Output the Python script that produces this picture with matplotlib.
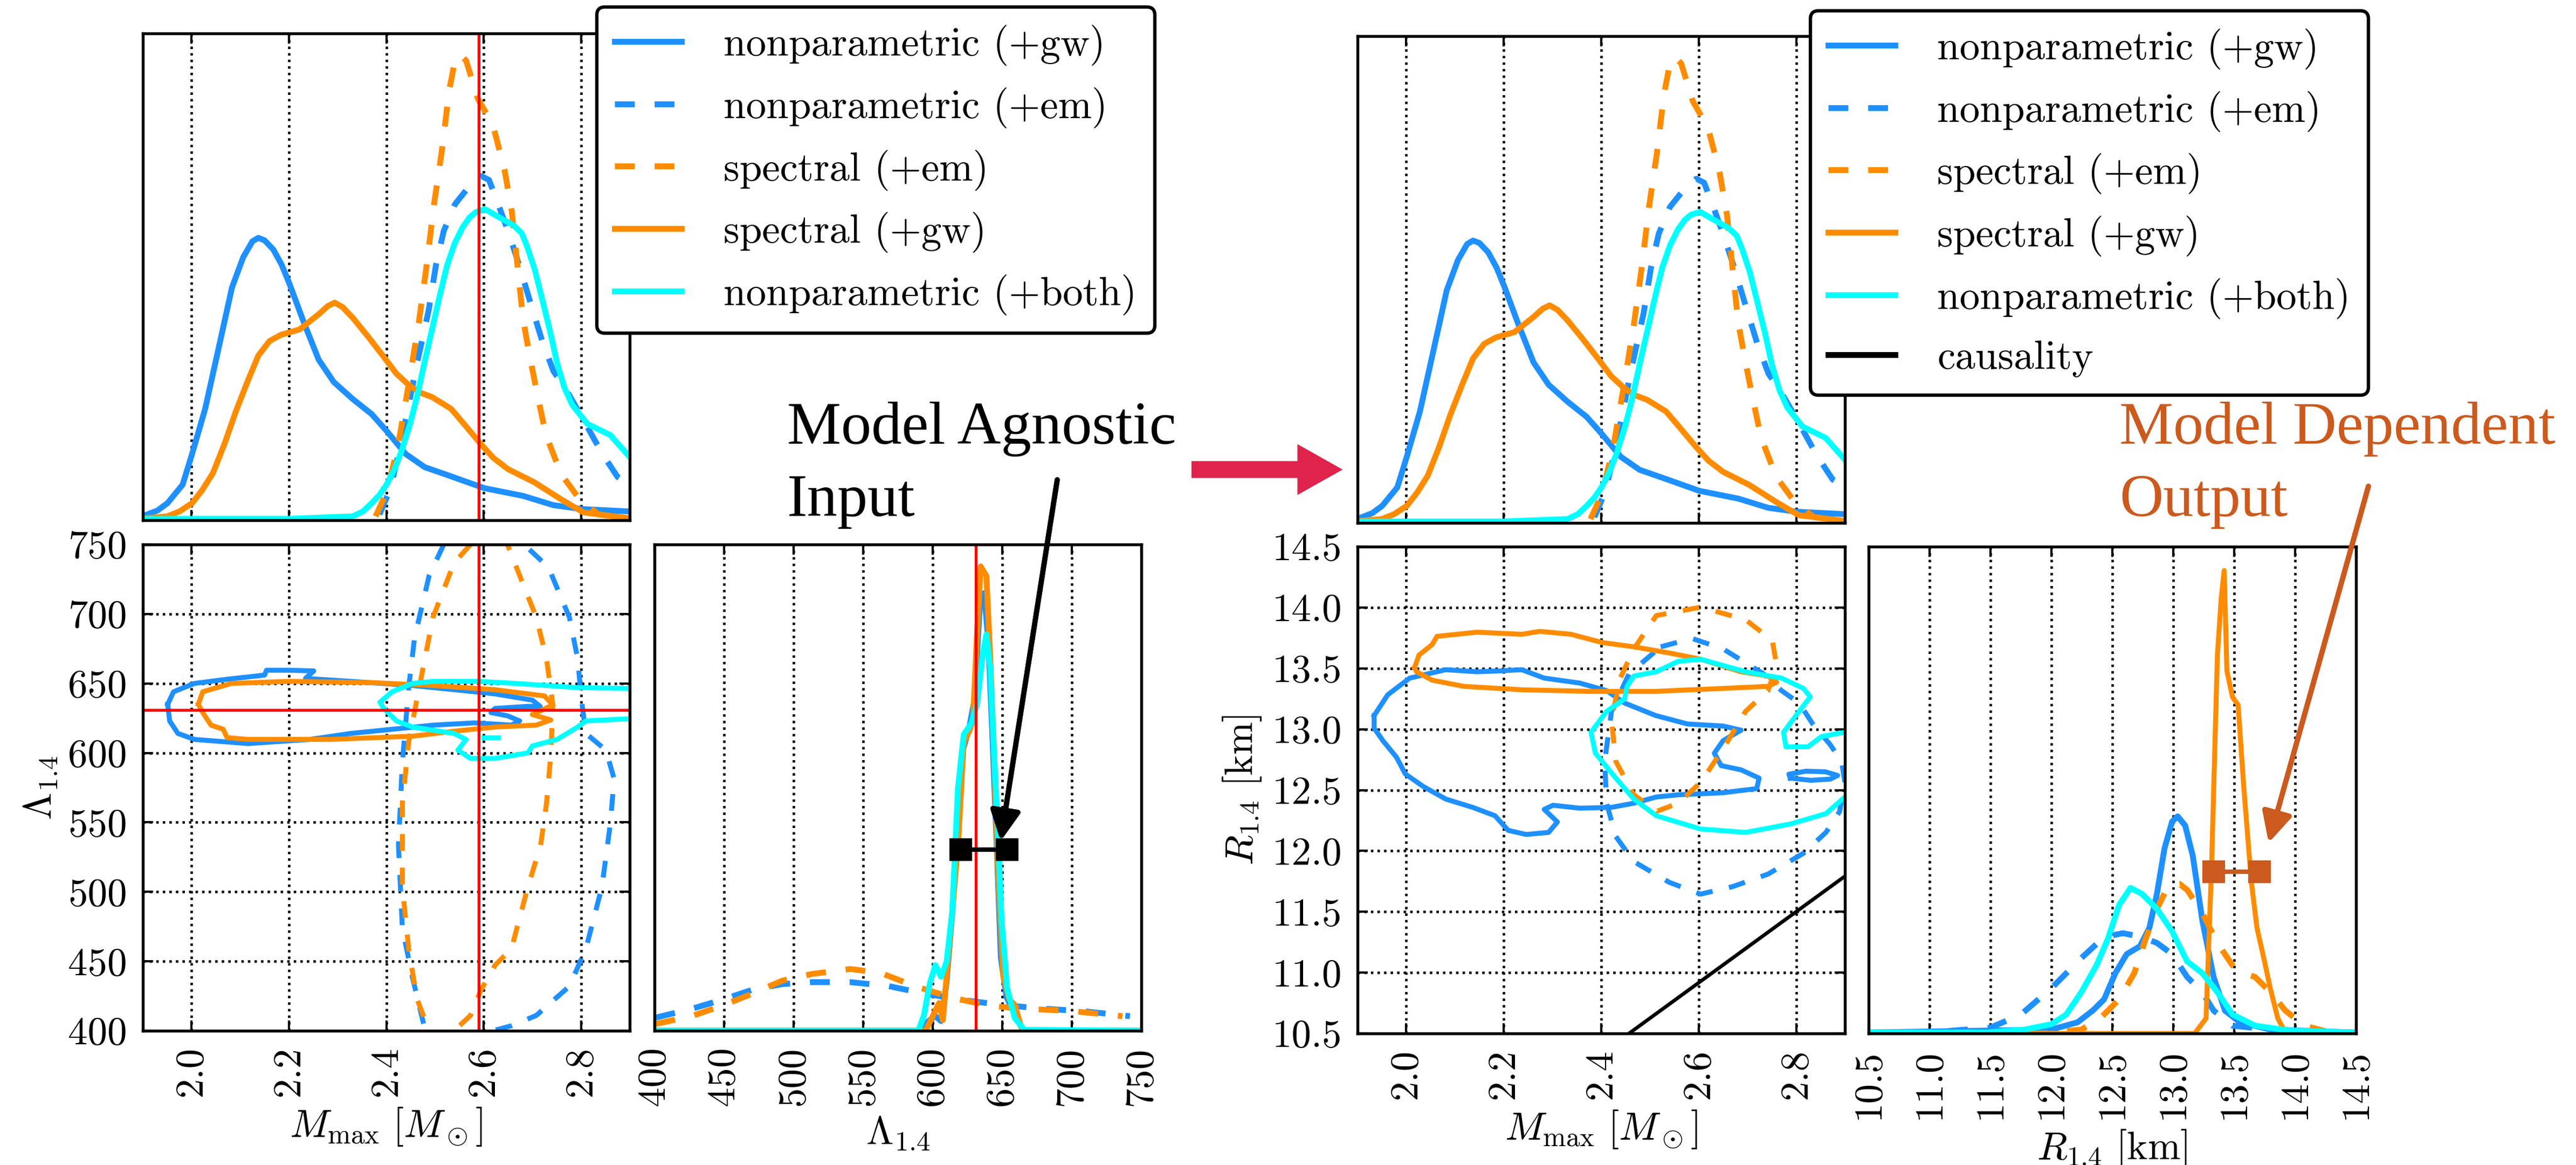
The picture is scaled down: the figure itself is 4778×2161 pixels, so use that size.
import numpy as np
import matplotlib.pyplot as plt
from matplotlib.lines import Line2D
from matplotlib.ticker import FixedLocator, FormatStrFormatter

plt.rcParams['font.family'] = 'serif'
plt.rcParams['font.serif'] = ['cmr10']
plt.rcParams['mathtext.fontset'] = 'cm'
plt.rcParams['axes.formatter.use_mathtext'] = True
plt.rcParams['axes.unicode_minus'] = False

W, H = 4778, 2161
FS = 17.5
BLUE, ORANGE, CYAN = 'dodgerblue', 'darkorange', 'cyan'
DEP = '#cc5a1e'
PINK = '#e0234a'
DASH = (0, (3.4, 3.4))

labels = ['nonparametric (+gw)', 'nonparametric (+em)', 'spectral (+em)',
          'spectral (+gw)', 'nonparametric (+both)']

# ---- M_max marginals (arbitrary density units) ----
mmax_npgw_x = [1.904, 1.93, 1.9505, 1.9816, 2.001, 2.028, 2.059, 2.083, 2.106, 2.125, 2.137, 2.15, 2.168,
               2.185, 2.201, 2.23, 2.261, 2.292, 2.331, 2.37, 2.401, 2.44, 2.479, 2.525, 2.601, 2.681,
               2.743, 2.801, 2.9]
mmax_npgw_y = [0.01, 0.02, 0.035, 0.073, 0.136, 0.229, 0.369, 0.478, 0.54, 0.573, 0.58, 0.575, 0.556,
               0.525, 0.486, 0.408, 0.33, 0.284, 0.249, 0.218, 0.183, 0.136, 0.109, 0.093, 0.066, 0.05,
               0.031, 0.023, 0.018]
mmax_npem_x = [2.386, 2.409, 2.432, 2.463, 2.487, 2.502, 2.518, 2.541, 2.572, 2.595, 2.611, 2.627, 2.65,
               2.673, 2.696, 2.72, 2.743, 2.774, 2.805, 2.844, 2.875, 2.9]
mmax_npem_y = [0.012, 0.066, 0.167, 0.322, 0.431, 0.524, 0.594, 0.649, 0.688, 0.707, 0.699, 0.657, 0.594,
               0.524, 0.447, 0.369, 0.307, 0.26, 0.206, 0.136, 0.089, 0.074]
mmax_spem_x = [2.378, 2.401, 2.424, 2.448, 2.467, 2.483, 2.498, 2.514, 2.529, 2.541, 2.552, 2.564, 2.588,
               2.619, 2.643, 2.658, 2.681, 2.696, 2.712, 2.728, 2.759, 2.797, 2.836, 2.9]
mmax_spem_y = [0.008, 0.058, 0.152, 0.291, 0.408, 0.524, 0.649, 0.758, 0.882, 0.944, 0.956, 0.944, 0.866,
               0.812, 0.719, 0.633, 0.412, 0.33, 0.25, 0.175, 0.095, 0.043, 0.012, 0.003]
mmax_spgw_x = [1.904, 1.95, 1.975, 2.001, 2.022, 2.044, 2.067, 2.09, 2.115, 2.137, 2.16, 2.184, 2.222,
               2.261, 2.28, 2.294, 2.31, 2.331, 2.362, 2.393, 2.42, 2.448, 2.47, 2.494, 2.533, 2.562,
               2.592, 2.62, 2.65, 2.704, 2.759, 2.805, 2.9]
mmax_spgw_y = [0.004, 0.008, 0.018, 0.035, 0.062, 0.097, 0.155, 0.221, 0.285, 0.338, 0.368, 0.381,
               0.392, 0.423, 0.44, 0.447, 0.438, 0.416, 0.378, 0.338, 0.302, 0.276, 0.262, 0.253, 0.229,
               0.195, 0.159, 0.128, 0.105, 0.078, 0.043, 0.016, 0.004]
mmax_both_x = [1.9, 2.2, 2.331, 2.352, 2.37, 2.386, 2.401, 2.417, 2.432, 2.448, 2.463, 2.478, 2.494,
               2.51, 2.525, 2.541, 2.557, 2.571, 2.584, 2.603, 2.627, 2.661, 2.678, 2.689, 2.705, 2.72,
               2.736, 2.751, 2.766, 2.782, 2.813, 2.86, 2.9]
mmax_both_y = [0.003, 0.003, 0.008, 0.018, 0.035, 0.052, 0.074, 0.105, 0.144, 0.195, 0.253, 0.322,
               0.392, 0.462, 0.524, 0.57, 0.602, 0.622, 0.633, 0.639, 0.625, 0.606, 0.59, 0.563, 0.515,
               0.455, 0.39, 0.322, 0.272, 0.237, 0.198, 0.175, 0.13]

# ---- Lambda_1.4 marginals ----
lam_npgw_x = [400, 590, 597, 602, 606, 610, 614, 618, 622, 626, 630, 634, 637, 640, 643, 646, 649, 653,
              658, 665, 750]
lam_npgw_y = [0, 0, 0.02, 0.03, 0.02, 0.1, 0.24, 0.42, 0.58, 0.62, 0.68, 0.88, 0.9, 0.8, 0.6, 0.38, 0.15,
              0.07, 0.04, 0, 0]
lam_npem_x = [400.8, 426.6, 450, 470, 491.8, 513.6, 540.8, 568, 595, 622.3, 649.5, 682, 709, 741.8]
lam_npem_y = [0.027, 0.045, 0.065, 0.084, 0.096, 0.1, 0.1, 0.092, 0.076, 0.063, 0.053, 0.045, 0.04, 0.03]
lam_spem_x = [400.8, 426.6, 450, 470, 491.8, 513.6, 540.8, 562.5, 587, 614, 641.3, 668.5, 698.4, 736.4]
lam_spem_y = [0.014, 0.03, 0.053, 0.076, 0.103, 0.117, 0.127, 0.119, 0.092, 0.068, 0.051, 0.045, 0.041, 0.03]
lam_spgw_x = [400, 595, 600.5, 604.6, 607.3, 610, 614, 618.2, 622.3, 626.4, 629, 631.8, 634.5, 638.6,
              641.3, 644, 646.7, 650.8, 655, 659, 664.4, 750]
lam_spgw_y = [0, 0, 0.033, 0.057, 0.022, 0.111, 0.243, 0.383, 0.593, 0.617, 0.64, 0.811, 0.955, 0.935,
              0.772, 0.578, 0.344, 0.111, 0.065, 0.053, 0, 0]
lam_both_x = [400, 589.7, 593.8, 597.8, 601.9, 606, 610, 614, 618.2, 622.3, 627.7, 631.8, 635.9, 638.6,
              641.3, 644, 646.7, 649.5, 653.5, 659, 665.8, 750]
lam_both_y = [0, 0, 0.033, 0.096, 0.135, 0.111, 0.142, 0.243, 0.5, 0.609, 0.632, 0.671, 0.772, 0.815,
              0.749, 0.578, 0.422, 0.228, 0.088, 0.026, 0.002, 0]

# ---- R_1.4 marginals ----
r_npgw_x = [10.5, 12.0, 12.215, 12.339, 12.432, 12.525, 12.618, 12.726, 12.804, 12.866, 12.928, 12.99,
            13.036, 13.098, 13.16, 13.238, 13.331, 13.424, 13.548, 13.796, 14.5]
r_npgw_y = [0.002, 0.008, 0.023, 0.047, 0.07, 0.124, 0.163, 0.179, 0.217, 0.287, 0.38, 0.435, 0.446,
            0.427, 0.365, 0.233, 0.116, 0.047, 0.023, 0.008, 0.002]
r_npem_x = [10.5, 11.0, 11.5, 11.75, 12.0, 12.246, 12.432, 12.587, 12.742, 12.866, 12.99, 13.114,
            13.238, 13.331, 13.486, 13.796, 14.26]
r_npem_y = [0.002, 0.002, 0.012, 0.039, 0.093, 0.155, 0.198, 0.206, 0.198, 0.186, 0.163, 0.116, 0.085,
            0.047, 0.016, 0.008, 0.002]
r_spem_x = [10.5, 11.94, 12.246, 12.4, 12.556, 12.68, 12.773, 12.866, 12.959, 13.052, 13.114, 13.238,
            13.362, 13.486, 13.579, 13.672, 13.796, 13.92, 14.075, 14.26, 14.5]
r_spem_y = [0, 0, 0.008, 0.031, 0.07, 0.124, 0.194, 0.256, 0.303, 0.307, 0.295, 0.248, 0.186, 0.14,
            0.124, 0.116, 0.085, 0.047, 0.016, 0.004, 0]
r_spgw_x = [10.5, 13.176, 13.269, 13.315, 13.362, 13.393, 13.418, 13.44, 13.486, 13.532, 13.579, 13.641,
            13.687, 13.749, 13.796, 13.858, 13.92, 14.5]
r_spgw_y = [0, 0, 0.031, 0.349, 0.776, 0.893, 0.951, 0.745, 0.691, 0.675, 0.505, 0.311, 0.217, 0.148,
            0.093, 0.031, 0.002, 0]
r_both_x = [10.5, 11.47, 11.78, 12.0, 12.122, 12.246, 12.37, 12.463, 12.556, 12.649, 12.742, 12.866,
            12.99, 13.114, 13.238, 13.362, 13.486, 13.672, 13.951, 14.5]
r_both_y = [0.002, 0.002, 0.008, 0.019, 0.039, 0.085, 0.14, 0.194, 0.264, 0.299, 0.287, 0.256, 0.21,
            0.148, 0.124, 0.085, 0.039, 0.016, 0.006, 0.002]

# ---- 90% contours, M_max vs Lambda_1.4 ----
cl_npgw_m = [1.951, 1.963, 2.006, 2.073, 2.15, 2.154, 2.2, 2.251, 2.234, 2.327, 2.454, 2.539, 2.623, 2.7,
             2.716, 2.691, 2.623, 2.615, 2.649, 2.674, 2.657, 2.581, 2.497, 2.412, 2.327, 2.243, 2.116,
             2.006, 1.972, 1.955, 1.951]
cl_npgw_l = [635, 644, 650, 653, 656, 659.5, 659.5, 659, 653.6, 651.5, 648.5, 645.5, 642.5, 638, 633.5,
             633.5, 632, 629, 626.7, 623, 620, 621.6, 620, 617, 614, 609.7, 606.7, 609.7, 614, 623, 635]
cl_spgw_m = [2.014, 2.023, 2.082, 2.2, 2.37, 2.496, 2.623, 2.725, 2.742, 2.7, 2.738, 2.708, 2.623, 2.539,
             2.454, 2.285, 2.116, 2.073, 2.065, 2.04, 2.023, 2.014]
cl_spgw_l = [635, 644, 650, 651.5, 650.6, 648.5, 645.5, 641, 634.5, 627.6, 623.7, 620, 618.6, 615.6, 612,
             609.7, 609.7, 611, 617, 620, 629, 635]
cl_both_m = [2.9, 2.793, 2.666, 2.59, 2.496, 2.454, 2.412, 2.387, 2.395, 2.421, 2.454, 2.539, 2.564,
             2.547, 2.573, 2.623, 2.691, 2.7, 2.751, 2.793, 2.81, 2.9]
cl_both_l = [646.4, 647, 650, 651.5, 651.5, 650, 644, 636.5, 632, 623, 618.6, 614, 609.7, 602, 596, 596,
             600, 605, 609.7, 618.6, 623, 624.6]
cl_npem_m = [2.518, 2.488, 2.458, 2.446, 2.433, 2.425, 2.433, 2.454, 2.48, 2.55, 2.619, 2.657, 2.708,
             2.776, 2.81, 2.843, 2.86, 2.868, 2.851, 2.81, 2.801, 2.793, 2.776, 2.733, 2.683, 2.6, 2.518]
cl_npem_l = [750, 727.6, 682.8, 647, 593, 533.5, 473.8, 438, 400, 370, 400, 403.6, 411, 432, 459, 503.7,
             548.5, 581.3, 602, 614, 638, 668, 697.7, 733.6, 750, 780, 750]
cl_spem_m = [2.573, 2.539, 2.496, 2.471, 2.446, 2.433, 2.433, 2.446, 2.463, 2.488, 2.51, 2.539, 2.573,
             2.594, 2.623, 2.657, 2.691, 2.717, 2.729, 2.738, 2.742, 2.729, 2.708, 2.674, 2.649, 2.61,
             2.573]
cl_spem_l = [750, 736.6, 697.7, 653, 608, 563.4, 503.7, 459, 423, 400, 380, 400, 411, 429, 447, 459,
             503.7, 533.5, 563.4, 599, 635, 668, 697.7, 727.6, 750, 780, 750]

# ---- 90% contours, M_max vs R_1.4 ----
cr_npgw_m = [1.934, 1.962, 2.007, 2.081, 2.145, 2.191, 2.237, 2.283, 2.356, 2.411, 2.448, 2.512, 2.577,
             2.65, 2.687, 2.65, 2.632, 2.646, 2.687, 2.724, 2.719, 2.65, 2.558, 2.513, 2.467, 2.421,
             2.356, 2.301, 2.283, 2.31, 2.292, 2.246, 2.209, 2.182, 2.136, 2.081, 2.035, 1.998, 1.98,
             1.952, 1.934, 1.934]
cr_npgw_r = [13.112, 13.283, 13.42, 13.489, 13.472, 13.479, 13.489, 13.42, 13.379, 13.317, 13.215,
             13.112, 13.043, 13.026, 12.992, 12.906, 12.803, 12.701, 12.666, 12.598, 12.512, 12.478,
             12.461, 12.443, 12.392, 12.358, 12.351, 12.375, 12.341, 12.238, 12.152, 12.135, 12.169,
             12.289, 12.358, 12.426, 12.529, 12.632, 12.769, 12.906, 13.009, 13.112]
cr_npgw_blob_m = [2.788, 2.83, 2.87, 2.885, 2.86, 2.82, 2.785, 2.788]
cr_npgw_blob_r = [12.598, 12.58, 12.59, 12.62, 12.65, 12.655, 12.63, 12.598]
cr_spgw_m = [2.017, 2.026, 2.053, 2.063, 2.145, 2.237, 2.274, 2.338, 2.402, 2.467, 2.54, 2.604, 2.687,
             2.742, 2.76, 2.742, 2.65, 2.512, 2.375, 2.237, 2.118, 2.053, 2.021, 2.017]
cr_spgw_r = [13.506, 13.609, 13.695, 13.763, 13.797, 13.78, 13.804, 13.78, 13.712, 13.677, 13.626,
             13.575, 13.472, 13.437, 13.386, 13.352, 13.335, 13.311, 13.311, 13.324, 13.352, 13.403,
             13.472, 13.506]
cr_both_m = [2.9, 2.852, 2.824, 2.779, 2.774, 2.806, 2.829, 2.815, 2.77, 2.696, 2.604, 2.558, 2.513,
             2.467, 2.453, 2.448, 2.411, 2.379, 2.388, 2.43, 2.467, 2.513, 2.604, 2.696, 2.788, 2.861, 2.9]
cr_both_r = [12.975, 12.94, 12.855, 12.855, 12.975, 13.146, 13.266, 13.335, 13.42, 13.472, 13.575,
             13.558, 13.472, 13.437, 13.352, 13.249, 13.146, 12.975, 12.803, 12.598, 12.426, 12.289,
             12.18, 12.152, 12.221, 12.306, 12.443]
cr_npem_m = [2.522, 2.586, 2.65, 2.733, 2.77, 2.806, 2.834, 2.87, 2.893, 2.9, 2.889, 2.861, 2.815, 2.742,
             2.669, 2.604, 2.54, 2.467, 2.43, 2.411, 2.407, 2.421, 2.457, 2.522]
cr_npem_r = [13.677, 13.746, 13.66, 13.455, 13.317, 13.215, 13.043, 12.872, 12.735, 12.563, 12.323,
             12.152, 11.981, 11.809, 11.706, 11.645, 11.741, 11.912, 12.118, 12.392, 12.735, 13.146,
             13.455, 13.677]
cr_spem_m = [2.467, 2.513, 2.604, 2.696, 2.751, 2.76, 2.742, 2.696, 2.65, 2.604, 2.558, 2.513, 2.467,
             2.43, 2.421, 2.439, 2.467]
cr_spem_r = [13.66, 13.934, 14.003, 13.9, 13.729, 13.523, 13.317, 13.146, 12.838, 12.563, 12.392,
             12.324, 12.461, 12.735, 13.078, 13.42, 13.66]
causal_m = [2.457, 2.9]
causal_r = [10.5, 11.792]

# injected values and 90% credible intervals
m_inj, lam_inj = 2.59, 631
lam_ci, lam_ci_y = [620.2, 653.5], 0.372
r_ci, r_ci_y = [13.33, 13.71], 0.332

m_ticks = [2.0, 2.2, 2.4, 2.6, 2.8]
lam_ticks = [400, 450, 500, 550, 600, 650, 700, 750]
r_ticks = [10.5, 11.0, 11.5, 12.0, 12.5, 13.0, 13.5, 14.0, 14.5]


def rect(x0, y0, x1, y1):
    return [x0 / W, 1 - y1 / H, (x1 - x0) / W, (y1 - y0) / H]


def style(ax, xgrid_only=False, yticks=True):
    for s in ax.spines.values():
        s.set_linewidth(1.3)
    ax.tick_params(direction='in', length=4.5, width=1.0, top=True, right=yticks,
                   left=yticks, labelsize=FS, pad=7)
    ax.grid(True, axis='x' if xgrid_only else 'both', linestyle=':', color='k', lw=1.1)


fig = plt.figure(figsize=(W / 300, H / 300), dpi=300)

ax_m1 = fig.add_axes(rect(265, 62, 1168, 965))
ax_ml = fig.add_axes(rect(265, 1010, 1168, 1912))
ax_l1 = fig.add_axes(rect(1214, 1010, 2117, 1912))
ax_m2 = fig.add_axes(rect(2518, 67, 3422, 970))
ax_mr = fig.add_axes(rect(2518, 1014, 3422, 1917))
ax_r1 = fig.add_axes(rect(3466, 1014, 4370, 1917))

LW, CLW = 2.6, 2.2

# top marginals
for ax in (ax_m1, ax_m2):
    ax.plot(mmax_npgw_x, mmax_npgw_y, color=BLUE, lw=LW)
    ax.plot(mmax_npem_x, mmax_npem_y, color=BLUE, lw=LW, ls=DASH)
    ax.plot(mmax_spem_x, mmax_spem_y, color=ORANGE, lw=LW, ls=DASH)
    ax.plot(mmax_spgw_x, mmax_spgw_y, color=ORANGE, lw=LW)
    ax.plot(mmax_both_x, mmax_both_y, color=CYAN, lw=LW)
    ax.set_xlim(1.9, 2.9)
    ax.set_ylim(0, 1.0)
    ax.xaxis.set_major_locator(FixedLocator(m_ticks))
    ax.set_yticks([])
    ax.set_xticklabels([])
    style(ax, xgrid_only=True, yticks=False)
ax_m1.axvline(m_inj, color='red', lw=1.3)

# Lambda marginal
ax_l1.plot(lam_npgw_x, lam_npgw_y, color=BLUE, lw=LW)
ax_l1.plot(lam_npem_x, lam_npem_y, color=BLUE, lw=LW, ls=DASH)
ax_l1.plot(lam_spem_x, lam_spem_y, color=ORANGE, lw=LW, ls=DASH)
ax_l1.plot(lam_spgw_x, lam_spgw_y, color=ORANGE, lw=LW)
ax_l1.plot(lam_both_x, lam_both_y, color=CYAN, lw=LW)
ax_l1.axvline(lam_inj, color='red', lw=1.3)
ax_l1.plot(lam_ci, [lam_ci_y] * 2, color='k', lw=2.0, marker='s', ms=9, zorder=5)

# R marginal
ax_r1.plot(r_npgw_x, r_npgw_y, color=BLUE, lw=LW)
ax_r1.plot(r_npem_x, r_npem_y, color=BLUE, lw=LW, ls=DASH)
ax_r1.plot(r_spem_x, r_spem_y, color=ORANGE, lw=LW, ls=DASH)
ax_r1.plot(r_spgw_x, r_spgw_y, color=ORANGE, lw=2.2)
ax_r1.plot(r_both_x, r_both_y, color=CYAN, lw=LW)
ax_r1.plot(r_ci, [r_ci_y] * 2, color=DEP, lw=2.0, marker='s', ms=9, zorder=5)

for ax, ticks, lim, fmt, lab in ((ax_l1, lam_ticks, (400, 750), '%d', r'$\Lambda_{1.4}$'),
                                 (ax_r1, r_ticks, (10.5, 14.5), '%.1f', r'$R_{1.4}\ [{\rm km}]$')):
    ax.set_xlim(*lim)
    ax.set_ylim(0, 1.0)
    ax.xaxis.set_major_locator(FixedLocator(ticks))
    ax.xaxis.set_major_formatter(FormatStrFormatter(fmt))
    ax.set_yticks([])
    style(ax, xgrid_only=True, yticks=False)
    ax.tick_params(axis='x', labelrotation=90)
    ax.set_xlabel(lab, fontsize=FS, labelpad=4)

# 2D: M_max vs Lambda
ax_ml.plot(cl_npgw_m, cl_npgw_l, color=BLUE, lw=CLW)
ax_ml.plot(cl_npem_m, cl_npem_l, color=BLUE, lw=CLW, ls=DASH)
ax_ml.plot(cl_spem_m, cl_spem_l, color=ORANGE, lw=CLW, ls=DASH)
ax_ml.plot(cl_spgw_m, cl_spgw_l, color=ORANGE, lw=CLW)
ax_ml.plot(cl_both_m, cl_both_l, color=CYAN, lw=CLW)
ax_ml.plot([2.6, 2.63], [611, 611], color=CYAN, lw=CLW)
ax_ml.axvline(m_inj, color='red', lw=1.3)
ax_ml.axhline(lam_inj, color='red', lw=1.3)
ax_ml.set_ylim(400, 750)
ax_ml.yaxis.set_major_locator(FixedLocator(lam_ticks))
ax_ml.yaxis.set_major_formatter(FormatStrFormatter('%d'))
ax_ml.set_ylabel(r'$\Lambda_{1.4}$', fontsize=FS)

# 2D: M_max vs R
ax_mr.plot(cr_npgw_m, cr_npgw_r, color=BLUE, lw=CLW)
ax_mr.plot(cr_npgw_blob_m, cr_npgw_blob_r, color=BLUE, lw=CLW)
ax_mr.plot(cr_npem_m, cr_npem_r, color=BLUE, lw=CLW, ls=DASH)
ax_mr.plot(cr_spem_m, cr_spem_r, color=ORANGE, lw=CLW, ls=DASH)
ax_mr.plot(cr_spgw_m, cr_spgw_r, color=ORANGE, lw=CLW)
ax_mr.plot(cr_both_m, cr_both_r, color=CYAN, lw=CLW)
ax_mr.plot(causal_m, causal_r, color='k', lw=1.6)
ax_mr.set_ylim(10.5, 14.5)
ax_mr.yaxis.set_major_locator(FixedLocator(r_ticks))
ax_mr.yaxis.set_major_formatter(FormatStrFormatter('%.1f'))
ax_mr.set_ylabel(r'$R_{1.4}\ [{\rm km}]$', fontsize=FS)

for ax in (ax_ml, ax_mr):
    ax.set_xlim(1.9, 2.9)
    ax.xaxis.set_major_locator(FixedLocator(m_ticks))
    ax.xaxis.set_major_formatter(FormatStrFormatter('%.1f'))
    style(ax)
    ax.tick_params(axis='x', labelrotation=90)
    ax.set_xlabel(r'$M_{\rm max}\ [M_\odot]$', fontsize=FS, labelpad=4)

# legends
handles = [Line2D([], [], color=BLUE, lw=LW), Line2D([], [], color=BLUE, lw=LW, ls=DASH),
           Line2D([], [], color=ORANGE, lw=LW, ls=DASH), Line2D([], [], color=ORANGE, lw=LW),
           Line2D([], [], color=CYAN, lw=LW)]
leg_kw = dict(loc='upper left', bbox_transform=fig.transFigure, borderaxespad=0, fancybox=True,
              framealpha=1, edgecolor='k', fontsize=18, handlelength=1.65, handletextpad=1.05,
              labelspacing=0.53, borderpad=0.44)
leg1 = fig.legend(handles, labels, bbox_to_anchor=(1107 / W, 1 - 13 / H), **leg_kw)
leg2 = fig.legend(handles + [Line2D([], [], color='k', lw=LW)], labels + ['causality'],
                  bbox_to_anchor=(3358 / W, 1 - 20 / H), **leg_kw)
for lg in (leg1, leg2):
    lg.get_frame().set_linewidth(1.5)

# annotations
TF = ['Liberation Serif']
fig.text(1460 / W, 1 - 823 / H, 'Model Agnostic', family=TF, fontsize=27, va='baseline')
fig.text(1460 / W, 1 - 957 / H, 'Input', family=TF, fontsize=27, va='baseline')
fig.text(3931 / W, 1 - 823 / H, 'Model Dependent', family=TF, fontsize=27, va='baseline', color=DEP)
fig.text(3931 / W, 1 - 957 / H, 'Output', family=TF, fontsize=27, va='baseline', color=DEP)

fig.add_artist(plt.annotate('', xy=(1856 / W, 1 - 1560 / H), xytext=(1961 / W, 1 - 890 / H),
                            xycoords='figure fraction', textcoords='figure fraction',
                            arrowprops=dict(arrowstyle='-|>', lw=2.3, color='k', mutation_scale=28,
                                            shrinkA=0, shrinkB=0)))
fig.add_artist(plt.annotate('', xy=(4208 / W, 1 - 1563 / H), xytext=(4393 / W, 1 - 902 / H),
                            xycoords='figure fraction', textcoords='figure fraction',
                            arrowprops=dict(arrowstyle='-|>', lw=2.3, color=DEP, mutation_scale=28,
                                            shrinkA=0, shrinkB=0)))
fig.add_artist(plt.annotate('', xy=(2490 / W, 1 - 871 / H), xytext=(2210 / W, 1 - 871 / H),
                            xycoords='figure fraction', textcoords='figure fraction',
                            arrowprops=dict(arrowstyle='simple,head_length=2.0,head_width=2.25,tail_width=0.74',
                                            mutation_scale=10, color=PINK, lw=0,
                                            shrinkA=0, shrinkB=0)))

fig.savefig('out.png', dpi=300)
